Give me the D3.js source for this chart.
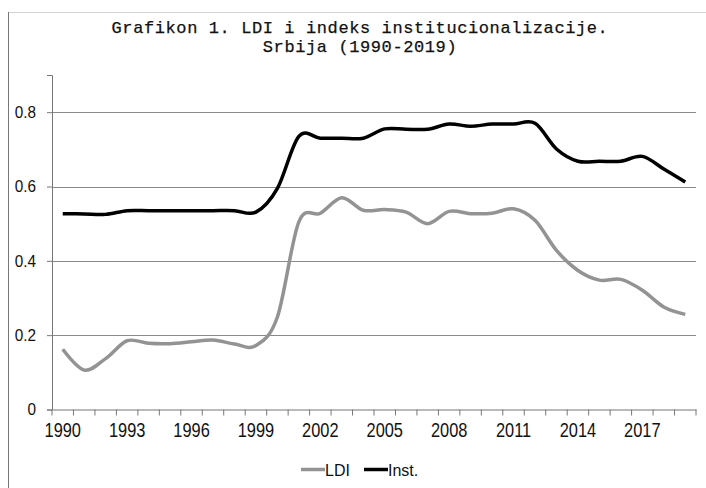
<!DOCTYPE html>
<html>
<head>
<meta charset="utf-8">
<script src="https://cdn.jsdelivr.net/npm/d3@7"></script>
<style>
  body { margin: 0; background: #fff; }
  .tick text { font-family: "Liberation Sans", Arial, sans-serif; fill: #111; }
  .title { font-family: "Liberation Mono", "DejaVu Sans Mono", monospace; font-size: 17px; letter-spacing: 0.6px; fill: #111; stroke: #111; stroke-width: 0.25; }
  .legend text { font-family: "Liberation Sans", Arial, sans-serif; font-size: 16px; fill: #111; }
</style>
</head>
<body>
<div id="chart"></div>
<script>
//chart values
let years = d3.range(1990, 2020);
let yearLabels = [1990, 1993, 1996, 1999, 2002, 2005, 2008, 2011, 2014, 2017];
let ldi = [0.162, 0.106, 0.137, 0.185, 0.178, 0.177, 0.182, 0.187, 0.176, 0.172,
           0.249, 0.505, 0.528, 0.570, 0.536, 0.538, 0.531, 0.500, 0.533, 0.527,
           0.528, 0.540, 0.509, 0.428, 0.374, 0.348, 0.350, 0.321, 0.276, 0.256];
let inst = [0.527, 0.526, 0.525, 0.535, 0.535, 0.535, 0.535, 0.535, 0.535, 0.531,
            0.595, 0.735, 0.730, 0.730, 0.730, 0.755, 0.754, 0.754, 0.768, 0.762,
            0.768, 0.768, 0.770, 0.701, 0.668, 0.668, 0.668, 0.681, 0.647, 0.612];
let yTicks = [0, 0.2, 0.4, 0.6, 0.8];

//set canvas and margins
let svgWidth = 706;
let svgHeight = 488;

let margin = { top: 75, right: 10, bottom: 79, left: 52 };
let width = 696 - margin.left;
let height = 409.5 - margin.top;

let svg = d3.select("#chart")
    .append("svg")
    .attr("width", svgWidth)
    .attr("height", svgHeight);

//outer frame
svg.append("line")
    .attr("x1", 8).attr("x2", svgWidth).attr("y1", 12.5).attr("y2", 12.5)
    .attr("stroke", "#d4d4d4");
svg.append("line")
    .attr("x1", 8.5).attr("x2", 8.5).attr("y1", 12).attr("y2", svgHeight)
    .attr("stroke", "#777");

//title
svg.append("text").attr("class", "title").attr("text-anchor", "middle")
    .attr("x", 360).attr("y", 32.5)
    .text("Grafikon 1. LDI i indeks institucionalizacije.");
svg.append("text").attr("class", "title").attr("text-anchor", "middle")
    .attr("x", 360).attr("y", 52)
    .text("Srbija (1990-2019)");

let chartGroup = svg.append("g")
    .attr("transform", `translate(${margin.left}, ${margin.top})`);

//scales
let xScale = d3.scaleBand()
    .domain(years)
    .range([0, width]);

let yScale = d3.scaleLinear()
    .domain([0, 0.9])
    .range([height, 0]);

//gridlines
chartGroup.selectAll(".grid")
    .data(yTicks.filter(d => d > 0))
    .join("line")
    .attr("class", "grid")
    .attr("x1", 0).attr("x2", width)
    .attr("y1", d => Math.round(yScale(d)) + 0.5)
    .attr("y2", d => Math.round(yScale(d)) + 0.5)
    .attr("stroke", "#8a8a8a");

//y axis
let leftAxis = d3.axisLeft(yScale)
    .tickValues(yTicks)
    .tickFormat(d => d === 0 ? "0" : d3.format(".1f")(d))
    .tickSize(5)
    .tickPadding(10);

let yAxisG = chartGroup.append("g").call(leftAxis);
yAxisG.select(".domain").attr("stroke", "#777");
yAxisG.selectAll(".tick line").attr("stroke", "#777");
// condensed look, like the narrow font of the original
yAxisG.selectAll(".tick text")
    .attr("font-size", 17)
    .attr("x", -16 / 0.9)
    .attr("transform", "scale(0.9,1)");

//x axis with tick marks between categories
let bottomAxis = d3.axisBottom(xScale)
    .tickValues(yearLabels)
    .tickSize(0)
    .tickPadding(13)
    .tickSizeOuter(0);

let xAxisG = chartGroup.append("g")
    .attr("transform", `translate(0, ${height})`)
    .call(bottomAxis);
xAxisG.select(".domain").attr("stroke", "#777");
xAxisG.selectAll(".tick text")
    .attr("font-size", 20)
    .attr("transform", "scale(0.82,1)");

chartGroup.selectAll(".xtick")
    .data(years.concat([2020]))
    .join("line")
    .attr("class", "xtick")
    .attr("x1", d => d === 2020 ? width : xScale(d))
    .attr("x2", d => d === 2020 ? width : xScale(d))
    .attr("y1", height)
    .attr("y2", height + 6)
    .attr("stroke", "#777");

//lines
let lineGen = d3.line()
    .x((d, i) => xScale(years[i]) + xScale.bandwidth() / 2)
    .y(d => yScale(d))
    .curve(d3.curveCardinal.tension(0));

chartGroup.append("path")
    .datum(ldi)
    .attr("d", lineGen)
    .attr("fill", "none")
    .attr("stroke", "#939393")
    .attr("stroke-width", 3.5)
    .attr("stroke-linejoin", "round");

chartGroup.append("path")
    .datum(inst)
    .attr("d", lineGen)
    .attr("fill", "none")
    .attr("stroke", "#000")
    .attr("stroke-width", 3.5)
    .attr("stroke-linejoin", "round");

//legend
let legendItems = [
    { name: "LDI", color: "#939393", x: 301 },
    { name: "Inst.", color: "#000", x: 364 }
];
let legend = svg.append("g").attr("class", "legend");
legendItems.forEach(item => {
    legend.append("line")
        .attr("x1", item.x).attr("x2", item.x + 24)
        .attr("y1", 469.5).attr("y2", 469.5)
        .attr("stroke", item.color)
        .attr("stroke-width", 3.5);
    legend.append("text")
        .attr("x", item.x + 24)
        .attr("y", 476)
        .text(item.name);
});
</script>
</body>
</html>
